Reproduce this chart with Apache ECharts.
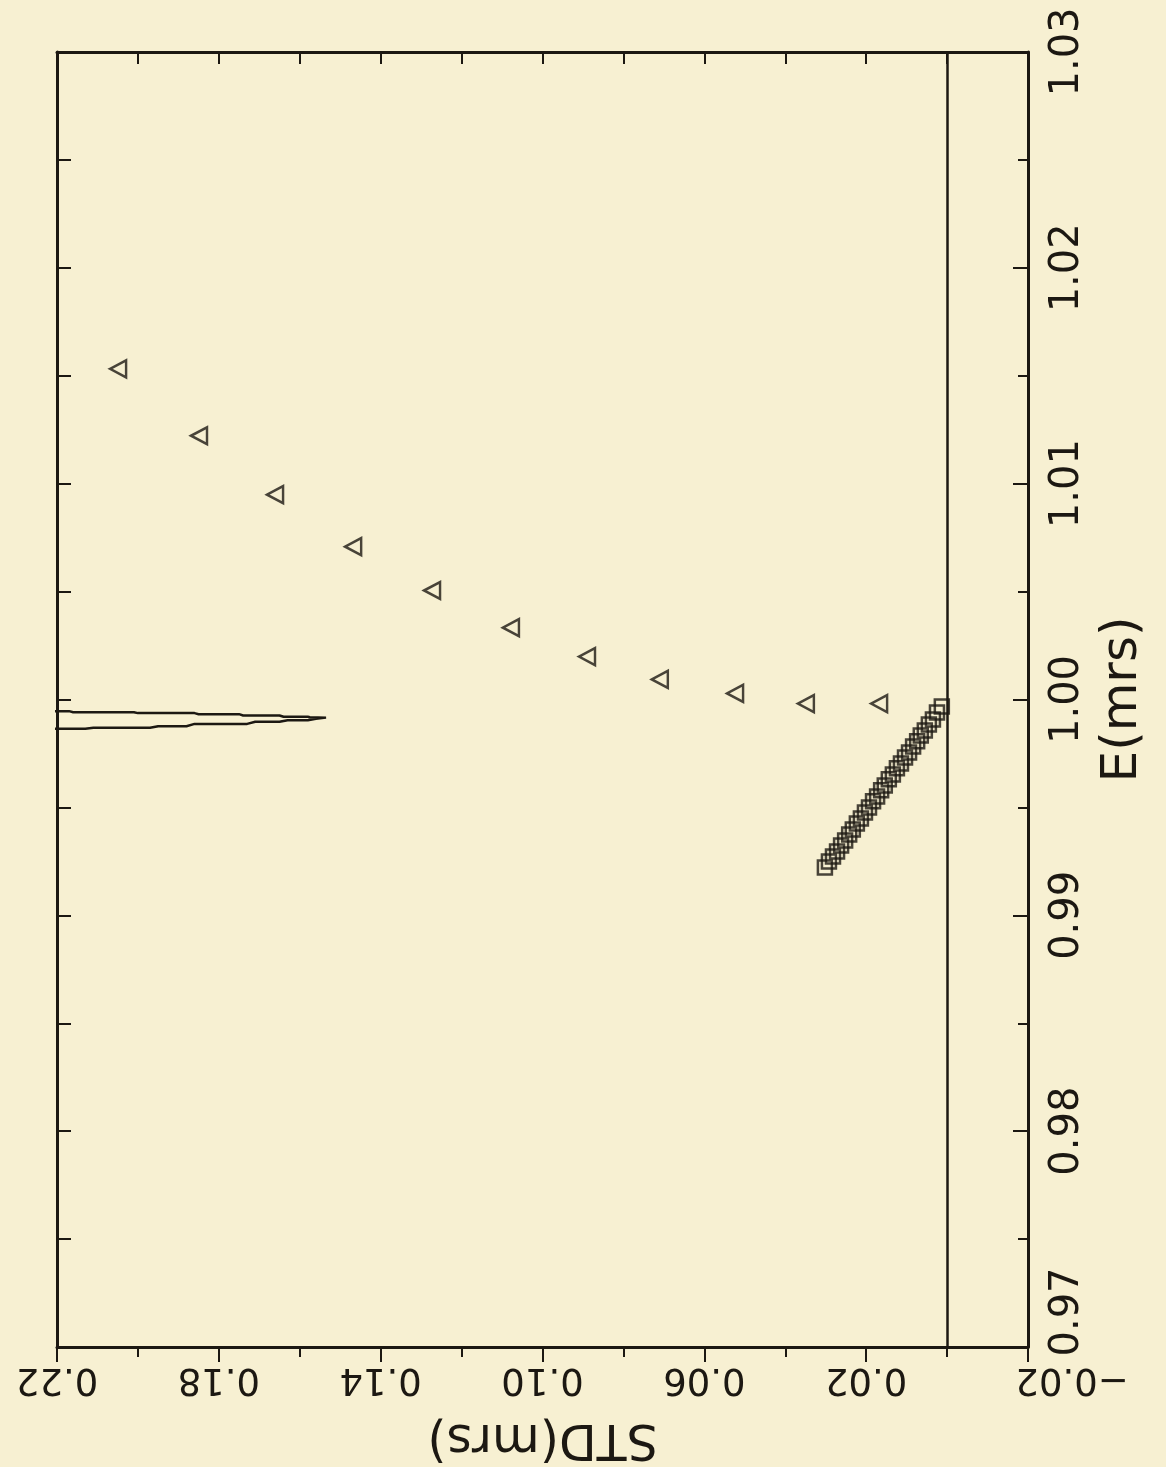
<!DOCTYPE html>
<html>
<head>
<meta charset="utf-8">
<script src="https://cdn.jsdelivr.net/npm/echarts@6/dist/echarts.min.js"></script>
<style>
html, body { margin: 0; padding: 0; background: #f7f0d2; }
#container { width: 1166px; height: 1467px; }
</style>
</head>
<body>
<div id="container"></div>
<script>
// triangles: STD vs E
var triSTD = [0.2049, 0.1849, 0.1661, 0.1468, 0.1273, 0.1078, 0.0890, 0.0710, 0.0524, 0.0349, 0.0168];
var triE   = [1.01532, 1.01222, 1.00949, 1.00708, 1.00505, 1.00333, 1.00199, 1.00093, 1.00028, 0.99981, 0.99981];

// squares
var sqSTD = [0.0302, 0.0292, 0.0282, 0.0272, 0.0262, 0.0252, 0.0242, 0.0233, 0.0223, 0.0213,
             0.0203, 0.0193, 0.0183, 0.0173, 0.0163, 0.0154, 0.0144, 0.0134, 0.0124, 0.0114,
             0.0104, 0.0094, 0.0084, 0.0074, 0.0065, 0.0055, 0.0045, 0.0035, 0.0025, 0.0013];
var sqE   = [0.99222, 0.99250, 0.99273, 0.99296, 0.99324, 0.99347, 0.99375, 0.99398, 0.99426, 0.99449,
             0.99477, 0.99500, 0.99528, 0.99551, 0.99579, 0.99602, 0.99630, 0.99653, 0.99681, 0.99704,
             0.99731, 0.99755, 0.99782, 0.99806, 0.99833, 0.99856, 0.99884, 0.99907, 0.99940, 0.99968];

// narrow spike curve
var spikeSTD = [0.24, 0.213, 0.211, 0.197, 0.195, 0.188, 0.186, 0.173, 0.171, 0.165, 0.163, 0.158, 0.156, 0.1535,
                0.1575, 0.158, 0.164, 0.165, 0.174, 0.175, 0.185, 0.186, 0.200, 0.201, 0.216, 0.217, 0.24];
var spikeE   = [0.99864, 0.99864, 0.99869, 0.99869, 0.99876, 0.99876, 0.99887, 0.99887, 0.99897, 0.99897, 0.99904, 0.99904, 0.99911, 0.99916,
                0.99918, 0.99920, 0.99920, 0.99926, 0.99926, 0.99932, 0.99932, 0.99937, 0.99937, 0.99941, 0.99941, 0.99946, 0.99946];

var zip = function(a, b) { return a.map(function(v, i) { return [v, b[i]]; }); };

var ink = '#1c1812';
var font = '"DejaVu Sans", sans-serif';

var dom = document.getElementById('container');
var myChart = echarts.init(dom);
var option = {
    backgroundColor: '#f7f0d2',
    animation: false,
    grid: { left: 57, right: 138, top: 52, bottom: 119 },
    xAxis: [{
        // inverse axis: tick direction is flipped, so inside:false points into the plot
        type: 'value', min: -0.02, max: 0.22, interval: 0.04, inverse: true, position: 'bottom',
        name: 'STD(mrs)', nameLocation: 'middle', nameRotate: 180, nameGap: 66,
        nameTextStyle: { fontSize: 49, color: ink, fontFamily: font },
        axisLine: { onZero: false, lineStyle: { color: ink, width: 3 } },
        axisTick: { inside: false, length: 15, lineStyle: { color: ink, width: 2 } },
        minorTick: { show: true, splitNumber: 2, length: 10, lineStyle: { color: ink, width: 2 } },
        axisLabel: {
            rotate: 180, fontSize: 37, color: ink, fontFamily: font, margin: 13,
            formatter: function(v) {
                return v < 0 ? '{neg|' + '\u2212' + Math.abs(v).toFixed(2) + '}' : v.toFixed(2);
            },
            rich: { neg: { fontSize: 37, color: ink, fontFamily: font, padding: [0, 88, 0, 0] } }
        },
        splitLine: { show: false }
    }, {
        type: 'value', min: -0.02, max: 0.22, interval: 0.02, inverse: true, position: 'top',
        axisLine: { onZero: false, lineStyle: { color: ink, width: 3 } },
        axisTick: { inside: true, length: 12, lineStyle: { color: ink, width: 2 } },
        axisLabel: { show: false },
        splitLine: { show: false }
    }],
    yAxis: [{
        type: 'value', min: 0.97, max: 1.03, interval: 0.01, position: 'right',
        name: 'E(mrs)', nameLocation: 'middle', nameRotate: 90, nameGap: 70,
        nameTextStyle: { fontSize: 50, color: ink, fontFamily: font },
        axisLine: { show: true, onZero: false, lineStyle: { color: ink, width: 3 } },
        axisTick: { show: true, inside: true, length: 15, lineStyle: { color: ink, width: 2 } },
        minorTick: { show: true, splitNumber: 2, length: 10, lineStyle: { color: ink, width: 2 } },
        axisLabel: {
            rotate: 90, fontSize: 40, color: ink, fontFamily: font, margin: 20,
            formatter: function(v) {
                return v < 0.975 ? '{low|' + v.toFixed(2) + '}' : v.toFixed(2);
            },
            rich: { low: { fontSize: 40, color: ink, fontFamily: font, padding: [0, 0, 0, 70] } }
        },
        splitLine: { show: false }
    }, {
        type: 'value', min: 0.97, max: 1.03, interval: 0.005, position: 'left',
        axisLine: { show: true, onZero: false, lineStyle: { color: ink, width: 3 } },
        axisTick: { show: true, inside: true, length: 14, lineStyle: { color: ink, width: 2 } },
        axisLabel: { show: false },
        splitLine: { show: false }
    }],
    series: [{
        type: 'line', name: 'spike', data: zip(spikeSTD, spikeE),
        showSymbol: false, clip: true,
        lineStyle: { color: ink, width: 2.5 },
        markLine: {
            silent: true, symbol: 'none', label: { show: false },
            lineStyle: { color: ink, width: 2.5, type: 'solid' },
            data: [{ xAxis: 0 }]
        }
    }, {
        type: 'scatter', name: 'tri', data: zip(triSTD, triE),
        symbol: 'triangle', symbolRotate: 90, symbolSize: [17, 16],
        itemStyle: { color: 'transparent', borderColor: ink, borderWidth: 2.5 }
    }, {
        type: 'scatter', name: 'sq', data: zip(sqSTD, sqE),
        symbol: 'rect', symbolSize: 14,
        itemStyle: { color: 'transparent', borderColor: ink, borderWidth: 2.5 }
    }]
};
myChart.setOption(option, true);
</script>
</body>
</html>
